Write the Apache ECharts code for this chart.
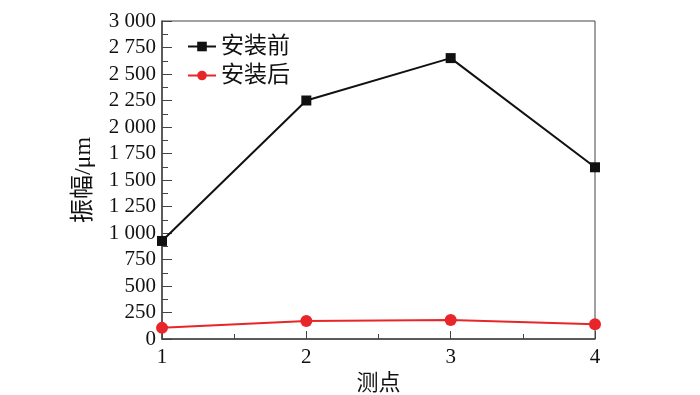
<!DOCTYPE html>
<html>
<head>
<meta charset="utf-8">
<script src="https://cdn.jsdelivr.net/npm/echarts@6/dist/echarts.min.js"></script>
<style>
  html, body { margin: 0; padding: 0; background: #fff; }
  #chart { width: 700px; height: 395px; }
</style>
</head>
<body>
<div id="chart"></div>
<script>
// 测点
var points = [1, 2, 3, 4];
// 振幅 µm
var before = [925, 2250, 2650, 1620];
var after = [105, 170, 180, 140];
var seriesNames = ['安装前', '安装后'];

var fontFam = '"Liberation Serif", "Noto Sans CJK SC", serif';
var axisColor = '#444';

function pairs(vals) {
  return points.map(function (p, i) { return [p, vals[i]]; });
}

function spaceThousands(v) {
  var s = String(v);
  if (s.length > 3) s = s.slice(0, s.length - 3) + ' ' + s.slice(-3);
  return s;
}

var myChart = echarts.init(document.getElementById('chart'));
var option = {
  animation: false,
  grid: {
    left: 162, right: 105, top: 21, bottom: 56,
    outerBoundsMode: 'none', containLabel: false,
    show: true, borderColor: axisColor, borderWidth: 1
  },
  legend: {
    left: 182, top: 30, orient: 'vertical',
    itemWidth: 28, itemHeight: 12, itemGap: 6,
    textStyle: { fontFamily: fontFam, fontSize: 23, color: '#111' },
    data: seriesNames
  },
  xAxis: {
    type: 'value', min: 1, max: 4, interval: 1,
    name: '测点', nameLocation: 'middle', nameGap: 29,
    nameTextStyle: { fontFamily: fontFam, fontSize: 22, color: '#111' },
    axisLine: { lineStyle: { color: axisColor, width: 1.5 } },
    axisTick: { inside: true, length: 8, lineStyle: { color: axisColor } },
    minorTick: { show: true, splitNumber: 2, length: 5, lineStyle: { color: axisColor } },
    axisLabel: { fontFamily: fontFam, fontSize: 21, color: '#111', margin: 8 },
    splitLine: { show: false }
  },
  yAxis: {
    type: 'value', min: 0, max: 3000, interval: 250,
    name: '振幅/μm', nameLocation: 'middle', nameGap: 66,
    nameTextStyle: { fontFamily: fontFam, fontSize: 24, color: '#111' },
    axisLine: { show: true, lineStyle: { color: axisColor, width: 1.5 } },
    axisTick: { show: true, inside: true, length: 10, lineStyle: { color: axisColor } },
    minorTick: { show: true, splitNumber: 2, length: 6, lineStyle: { color: axisColor } },
    axisLabel: {
      fontFamily: fontFam, fontSize: 21, color: '#111', margin: 6,
      formatter: spaceThousands
    },
    splitLine: { show: false }
  },
  series: [
    {
      name: seriesNames[0], type: 'line', data: pairs(before),
      symbol: 'rect', symbolSize: 10,
      itemStyle: { color: '#111' },
      lineStyle: { color: '#111', width: 2 }
    },
    {
      name: seriesNames[1], type: 'line', data: pairs(after),
      symbol: 'circle', symbolSize: 12,
      itemStyle: { color: '#e8262a' },
      lineStyle: { color: '#e8262a', width: 2 }
    }
  ]
};
myChart.setOption(option);
</script>
</body>
</html>
